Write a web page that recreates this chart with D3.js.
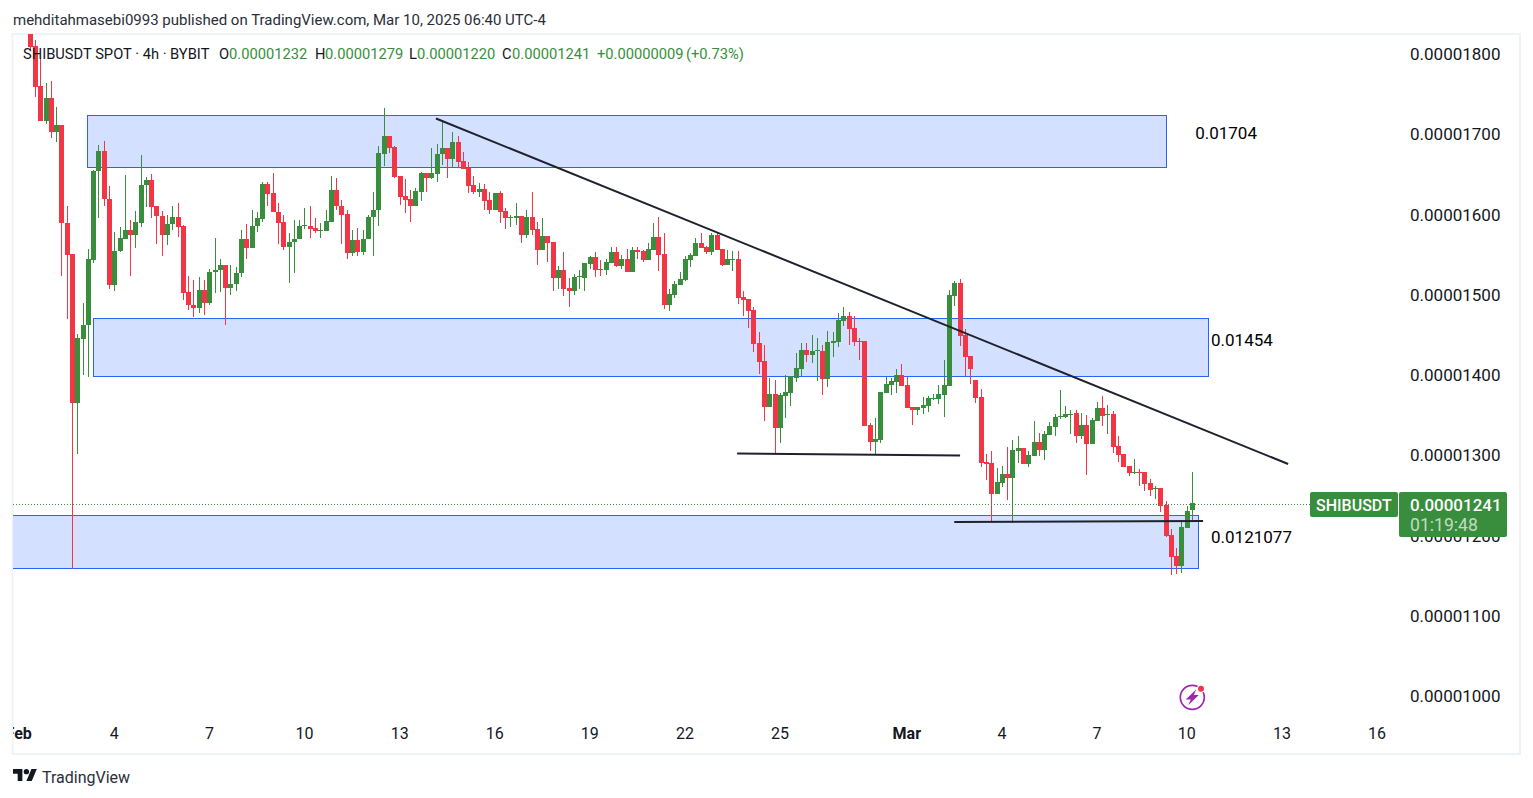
<!DOCTYPE html>
<html><head><meta charset="utf-8">
<script src="https://cdnjs.cloudflare.com/ajax/libs/d3/7.8.5/d3.min.js"></script>
<style>
html,body{margin:0;padding:0;background:#fff;overflow:hidden}
svg{display:block}
text{font-family:Roboto,"Open Sans",sans-serif}
</style></head><body><svg id="c" width="1533" height="798"></svg>
<script>
// All prices in units of 1e-8 USDT
const opens=[1840,1810,1760,1716,1745,1703,1712,1590,1551,1366,1445,1462,1544,1654,1679,1620,1512,1555,1570,1581,1574,1590,1637,1643,1611,1598,1575,1588,1597,1586,1503,1488,1484,1506,1490,1529,1531,1537,1509,1514,1527,1570,1558,1586,1595,1638,1627,1603,1591,1560,1566,1570,1586,1586,1583,1580,1580,1591,1631,1611,1601,1552,1568,1553,1570,1597,1606,1675,1698,1684,1648,1623,1619,1611,1628,1652,1646,1651,1675,1683,1669,1690,1667,1658,1637,1628,1632,1618,1606,1627,1604,1596,1596,1598,1575,1597,1582,1556,1573,1566,1521,1531,1509,1505,1522,1521,1538,1547,1532,1531,1540,1553,1536,1545,1529,1556,1555,1543,1556,1572,1551,1487,1500,1512,1519,1544,1548,1565,1560,1553,1575,1557,1537,1544,1545,1497,1495,1481,1440,1418,1360,1377,1334,1374,1378,1397,1408,1431,1425,1430,1430,1395,1440,1441,1468,1474,1459,1443,1443,1338,1317,1319,1378,1388,1392,1400,1388,1360,1357,1359,1362,1371,1370,1375,1387,1499,1515,1450,1424,1394,1373,1292,1291,1252,1266,1277,1272,1306,1309,1289,1299,1317,1307,1325,1335,1348,1348,1352,1353,1324,1338,1314,1343,1359,1351,1352,1312,1302,1287,1280,1280,1279,1266,1259,1260,1238,1201,1175,1162,1210,1232];
const highs=[1850,1817,1795,1764,1766,1734,1712,1611,1551,1451,1490,1557,1656,1687,1692,1636,1578,1585,1649,1593,1605,1674,1647,1651,1611,1604,1600,1611,1615,1587,1524,1519,1522,1519,1532,1571,1545,1537,1537,1535,1581,1588,1606,1603,1641,1641,1652,1614,1600,1577,1593,1593,1608,1611,1596,1590,1606,1648,1646,1618,1606,1581,1583,1581,1599,1628,1685,1733,1698,1685,1648,1644,1631,1633,1653,1652,1683,1688,1718,1683,1703,1698,1678,1665,1648,1639,1638,1628,1627,1629,1608,1600,1614,1598,1606,1628,1591,1596,1573,1566,1536,1553,1521,1526,1531,1540,1548,1553,1543,1545,1560,1560,1550,1557,1560,1560,1556,1565,1590,1597,1577,1507,1517,1529,1548,1552,1571,1577,1561,1577,1578,1557,1556,1555,1555,1505,1495,1485,1454,1438,1397,1394,1378,1400,1399,1428,1440,1440,1450,1446,1438,1455,1454,1477,1485,1479,1474,1446,1443,1340,1347,1379,1398,1397,1408,1414,1398,1360,1360,1373,1374,1377,1388,1419,1506,1517,1520,1458,1424,1394,1383,1302,1306,1284,1287,1311,1319,1324,1309,1306,1343,1328,1330,1342,1352,1382,1362,1357,1357,1353,1350,1347,1367,1374,1363,1355,1324,1302,1287,1296,1283,1279,1271,1262,1260,1243,1208,1185,1220,1237,1279];
const lows=[1805,1747,1716,1713,1695,1690,1523,1470,1159,1302,1400,1398,1540,1596,1611,1507,1505,1553,1570,1523,1559,1585,1609,1596,1564,1549,1562,1581,1572,1494,1481,1473,1478,1475,1488,1502,1503,1462,1500,1505,1522,1545,1558,1578,1591,1611,1603,1564,1556,1515,1527,1570,1582,1571,1577,1571,1580,1591,1606,1564,1545,1548,1548,1550,1570,1548,1586,1660,1677,1646,1612,1602,1591,1611,1617,1628,1644,1641,1662,1646,1658,1658,1657,1627,1626,1622,1606,1601,1606,1589,1582,1585,1587,1565,1571,1575,1537,1556,1541,1505,1507,1499,1485,1500,1507,1505,1532,1522,1524,1525,1540,1535,1532,1529,1529,1545,1541,1543,1556,1530,1482,1480,1496,1512,1517,1535,1548,1558,1551,1550,1556,1536,1537,1530,1489,1474,1459,1429,1402,1343,1360,1303,1316,1347,1362,1392,1399,1416,1415,1393,1375,1385,1423,1435,1461,1438,1436,1419,1337,1306,1301,1316,1378,1375,1378,1387,1359,1338,1350,1352,1354,1369,1364,1348,1387,1486,1436,1399,1389,1365,1286,1269,1217,1252,1261,1245,1216,1291,1289,1286,1299,1299,1294,1325,1324,1345,1347,1327,1316,1321,1276,1314,1343,1337,1327,1303,1292,1286,1274,1277,1262,1256,1250,1246,1230,1198,1151,1152,1154,1210,1220];
const closes=[1809,1759,1716,1745,1703,1712,1589,1550,1366,1446,1463,1545,1654,1679,1620,1512,1555,1571,1581,1574,1591,1637,1643,1610,1598,1575,1588,1597,1585,1502,1487,1484,1506,1490,1529,1531,1537,1509,1514,1527,1570,1558,1586,1596,1638,1626,1603,1590,1560,1566,1570,1586,1587,1582,1580,1581,1592,1631,1611,1599,1552,1568,1553,1570,1597,1606,1677,1698,1683,1647,1622,1618,1611,1629,1652,1646,1652,1675,1683,1669,1690,1665,1657,1636,1628,1632,1617,1606,1627,1603,1596,1597,1598,1575,1597,1581,1556,1573,1565,1521,1531,1507,1505,1522,1523,1540,1547,1531,1531,1541,1553,1536,1545,1529,1556,1553,1543,1557,1572,1550,1487,1501,1514,1520,1545,1550,1565,1558,1553,1575,1556,1537,1545,1545,1496,1494,1480,1439,1416,1360,1377,1334,1375,1379,1399,1409,1431,1425,1430,1431,1395,1441,1443,1469,1474,1458,1441,1441,1337,1317,1321,1379,1389,1393,1400,1387,1359,1357,1360,1363,1372,1372,1377,1388,1500,1515,1449,1423,1408,1372,1291,1290,1252,1267,1277,1272,1307,1309,1289,1301,1317,1307,1327,1337,1348,1349,1352,1352,1324,1338,1314,1344,1359,1349,1352,1311,1301,1286,1278,1280,1279,1264,1257,1260,1237,1200,1174,1162,1211,1231,1241];

const priceTicks=[1800,1700,1600,1500,1400,1300,1200,1100,1000];
const timeTickIndex=[-2.1,16,34,52,70,88,106,124,142,166,184,202,219,237,255];
const timeTickLabels=["Feb","4","7","10","13","16","19","22","25","Mar","4","7","10","13","16"];
// zones: [index start, index end, price top, price bottom]
const zones=[[10.9,215.1,1724,1659.3],[12.04,223.1,1470.7,1398.6],[-4,221.0,1225.5,1159.6]];
// trend lines: [index a, price a, index b, price b]
const trendLines=[[76.9,1719.7,238.2,1289.4],[133.9,1302.5,176.1,1300],[175,1217.2,222.1,1218.5]];
const zoneLabels=[["0.01704",220.6,1701],["0.01454",223.6,1444],["0.0121077",223.6,1198.5]];
const lastPriceLinePrice=1239.5;

const UP="#388e3c",DOWN="#f23645",INK="#131722";
const svg=d3.select("#c");
const x=d3.scaleLinear().domain([0,220]).range([29.7,1192]);
const y=d3.scaleLinear().domain([1000,1800]).range([696.4,54]);
const defs=svg.append("defs");
defs.append("clipPath").attr("id","pane").append("rect").attr("x",13).attr("y",34).attr("width",1506).attr("height",719);
defs.append("clipPath").attr("id","tclip").append("rect").attr("x",13).attr("y",715).attr("width",1506).attr("height",38);

// frame
svg.append("rect").attr("x",12.5).attr("y",34).attr("width",1507.5).attr("height",720)
  .attr("fill","none").attr("stroke","#f0f3f5").attr("stroke-width",2);

const pane=svg.append("g").attr("clip-path","url(#pane)");
pane.append("line").attr("x1",13).attr("x2",1310)
  .attr("y1",Math.round(y(lastPriceLinePrice))+0.5).attr("y2",Math.round(y(lastPriceLinePrice))+0.5)
  .attr("stroke",UP).attr("stroke-width",1).attr("stroke-dasharray","1 2");
pane.selectAll("rect.zone").data(zones).join("rect").attr("class","zone")
  .attr("x",d=>Math.round(x(d[0]))+0.5).attr("width",d=>Math.round(x(d[1])-x(d[0])))
  .attr("y",d=>Math.round(y(d[2]))+0.5).attr("height",d=>Math.round(y(d[3])-y(d[2])))
  .attr("fill","#d4e0ff").attr("stroke","#2962ff").attr("stroke-width",1);

const candles=opens.map((o,i)=>({i,o,h:highs[i],l:lows[i],c:closes[i]}));
const cg=pane.append("g").attr("shape-rendering","crispEdges");
const col=d=>d.c>=d.o?UP:DOWN;
cg.selectAll("rect.w").data(candles).join("rect").attr("class","w")
  .attr("x",d=>Math.round(x(d.i))).attr("width",1)
  .attr("y",d=>y(d.h)).attr("height",d=>Math.max(1,y(d.l)-y(d.h))).attr("fill",col);
cg.selectAll("rect.b").data(candles).join("rect").attr("class","b")
  .attr("x",d=>Math.round(x(d.i))-2).attr("width",5)
  .attr("y",d=>y(Math.max(d.o,d.c))).attr("height",d=>Math.max(1,Math.abs(y(d.o)-y(d.c)))).attr("fill",col);

pane.selectAll("line.t").data(trendLines).join("line").attr("class","t")
  .attr("x1",d=>x(d[0])).attr("y1",d=>y(d[1])).attr("x2",d=>x(d[2])).attr("y2",d=>y(d[3]))
  .attr("stroke","#1e222d").attr("stroke-width",2);

svg.selectAll("text.zl").data(zoneLabels).join("text").attr("class","zl")
  .attr("x",d=>x(d[1])).attr("y",d=>y(d[2])).attr("dy","0.35em")
  .attr("font-size",17).attr("fill","#000").text(d=>d[0]);

// axes
const fmtPrice=p=>"0.0000"+String(p).padStart(4,"0");
const ax=svg.append("g").attr("transform","translate(1410,-0.5)")
  .call(d3.axisRight(y).tickValues(priceTicks).tickSize(0).tickPadding(0).tickFormat(fmtPrice));
ax.select(".domain").remove();
ax.selectAll("text").attr("font-size",17).attr("fill",INK).attr("font-family","Roboto").attr("dy","0.35em");

const tx=svg.append("g").attr("clip-path","url(#tclip)").append("g").attr("transform","translate(-0.4,733)")
  .call(d3.axisBottom(x).tickValues(timeTickIndex).tickSize(0).tickPadding(0).tickFormat((d,i)=>timeTickLabels[i]));
tx.select(".domain").remove();
tx.selectAll("text").attr("font-size",16).attr("fill",INK).attr("font-family","Roboto").attr("dy","0.35em")
  .attr("y",0).attr("font-weight",(d,i)=>/[A-Z]/.test(timeTickLabels[i])?700:400);

// header and legend
const T=(t,xp,yp,size,fill,extra)=>{const e=svg.append("text").attr("x",xp).attr("y",yp).attr("dy","0.35em")
  .attr("font-size",size).attr("fill",fill).text(t); if(extra)extra(e); return e;};
T("mehditahmasebi0993 published on TradingView.com, Mar 10, 2025 06:40 UTC-4",13,20,15,"#2a2e39");
T("SHIBUSDT SPOT · 4h · BYBIT",23,53.5,14.7,INK);
const legend=[["O",219],["H",315],["L",409],["C",502]];
const legendVals=[["0.00001232",229],["0.00001279",325],["0.00001220",417],["0.00001241",512],["+0.00000009",597],["(+0.73%)",686]];
legend.forEach(d=>T(d[0],d[1],53.5,14.7,INK));
legendVals.forEach(d=>T(d[0],d[1],53.5,14.7,UP));

// last price labels
const lab=svg.append("g");
lab.append("rect").attr("x",1310).attr("y",492).attr("width",88).attr("height",25).attr("rx",2).attr("fill",UP);
lab.append("rect").attr("x",1399).attr("y",492).attr("width",108).attr("height",45).attr("rx",2).attr("fill",UP);
T("SHIBUSDT",1316,505,16,"#fff",e=>e.attr("font-weight",500));
T("0.00001241",1410,505,17,"#fff",e=>e.attr("font-weight",500));
T("01:19:48",1410,525,17.6,"rgba(255,255,255,0.7)");

// logo
const logo=svg.append("g").attr("transform","translate(13,766.3) scale(0.67)");
logo.append("path").attr("d","M14 22H7V11H0V4h14v18zM28 22h-8l7.5-18h8L28 22z").attr("fill","#131722");
logo.append("circle").attr("cx",20).attr("cy",8).attr("r",4).attr("fill","#131722");
T("TradingView",42,777,16,"#2a2e39");

// bolt icon
const b=svg.append("g").attr("transform","translate(1192.3,697.3)");
b.append("circle").attr("r",12).attr("fill","none").attr("stroke","#9c27b0").attr("stroke-width",1.7);
b.append("path").attr("d","M4 -8 L-6.5 2.2 L-1.5 2.2 L-4 8 L6.5 -2.2 L1.5 -2.2 Z").attr("fill","#9c27b0");
b.append("circle").attr("cx",8.7).attr("cy",-8.6).attr("r",4).attr("fill","#fff");
b.append("circle").attr("cx",8.7).attr("cy",-8.6).attr("r",3).attr("fill","#f23645");
</script></body></html>
